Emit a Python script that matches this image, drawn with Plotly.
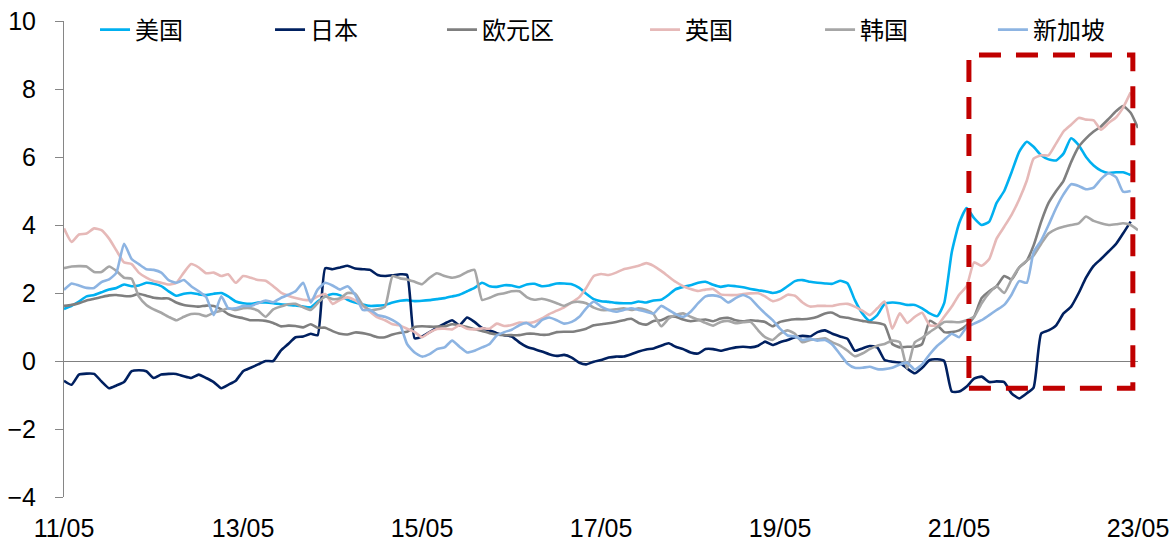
import pandas as pd
import plotly.graph_objects as go

# Monthly readings, starting May 2011
start_month = "2011-05-01"

us = [1.53, 1.62, 1.75, 1.9, 1.94, 2.02, 2.1, 2.15, 2.25, 2.2,
      2.22, 2.3, 2.27, 2.2, 2.05, 1.92, 1.98, 2.0, 1.96, 1.94,
      1.98, 2.0, 1.9, 1.75, 1.7, 1.68, 1.72, 1.72, 1.7, 1.67,
      1.65, 1.63, 1.6, 1.58, 1.75, 1.9, 1.97, 1.93, 1.8, 1.72,
      1.66, 1.62, 1.63, 1.65, 1.72, 1.77, 1.79, 1.76, 1.77, 1.79,
      1.82, 1.85, 1.9, 1.95, 2.05, 2.15, 2.3, 2.2, 2.18, 2.23,
      2.22, 2.17, 2.25, 2.27, 2.2, 2.22, 2.28, 2.28, 2.26, 2.15,
      1.98, 1.82, 1.76, 1.74, 1.71, 1.7, 1.7, 1.75, 1.72, 1.78,
      1.8, 1.95, 2.11, 2.18, 2.23, 2.3, 2.33, 2.24, 2.18, 2.22,
      2.2, 2.17, 2.12, 2.08, 2.05, 2.0, 2.05, 2.2, 2.35, 2.38,
      2.33, 2.3, 2.28, 2.27, 2.36, 2.28, 1.8, 1.4, 1.18, 1.35,
      1.68, 1.72, 1.7, 1.65, 1.65, 1.55, 1.4, 1.32, 1.7, 3.2,
      4.05, 4.5, 4.2, 4.0, 4.1, 4.65, 5.0, 5.55, 6.15, 6.45,
      6.3, 6.05, 5.93, 5.9, 6.1, 6.55, 6.35, 6.0, 5.75, 5.6,
      5.53, 5.55, 5.55, 5.47]

japan = [-0.58, -0.7, -0.4, -0.37, -0.38, -0.6, -0.8, -0.72, -0.62, -0.3,
         -0.27, -0.3, -0.5, -0.4, -0.38, -0.38, -0.45, -0.5, -0.4, -0.5,
         -0.62, -0.8, -0.7, -0.58, -0.3, -0.2, -0.1, 0.0, 0.0, 0.3,
         0.5, 0.7, 0.72, 0.8, 0.76, 2.73, 2.7, 2.75, 2.8, 2.72,
         2.7, 2.68, 2.53, 2.5, 2.52, 2.55, 2.53, 0.67, 0.72, 0.85,
         0.98, 1.1, 1.2, 1.05, 1.28, 1.15, 0.97, 0.9, 0.82, 0.76,
         0.72, 0.55, 0.42, 0.35, 0.28, 0.2, 0.15, 0.18, 0.1, -0.05,
         -0.1, -0.02, 0.03, 0.1, 0.13, 0.13, 0.2, 0.28, 0.34, 0.37,
         0.45, 0.52, 0.42, 0.35, 0.25, 0.22, 0.35, 0.35, 0.3, 0.35,
         0.4, 0.42, 0.4, 0.45, 0.57, 0.47, 0.55, 0.62, 0.7, 0.74,
         0.72, 0.85, 0.9, 0.8, 0.72, 0.65, 0.3, 0.37, 0.44, 0.4,
         0.03, -0.02, -0.05, -0.22, -0.36, -0.2, 0.03, 0.05, 0.0, -0.9,
         -0.9, -0.75, -0.52, -0.46, -0.62, -0.6, -0.62, -0.95, -1.1, -0.95,
         -0.78, 0.81, 0.9, 1.05, 1.4, 1.6, 2.0, 2.45, 2.8, 3.0,
         3.22, 3.45, 3.75, 4.1]

euro = [1.62, 1.65, 1.7, 1.78, 1.83, 1.88, 1.93, 1.94, 1.91, 1.91,
        1.98, 1.92, 1.86, 1.84, 1.84, 1.72, 1.65, 1.62, 1.6, 1.63,
        1.62, 1.52, 1.38, 1.3, 1.26, 1.2, 1.2, 1.18, 1.12, 1.02,
        1.04, 1.03, 0.99, 1.08, 0.98, 0.98, 0.88, 0.8, 0.78, 0.84,
        0.82, 0.77, 0.7, 0.7, 0.78, 0.83, 0.86, 1.0, 1.02, 1.01,
        1.01, 1.02, 1.08, 1.05, 1.0, 0.94, 0.88, 0.82, 0.78, 0.76,
        0.76, 0.76, 0.8, 0.8, 0.77, 0.78, 0.85, 0.86, 0.86, 0.9,
        0.95, 1.05, 1.08, 1.11, 1.15, 1.2, 1.24, 1.12, 1.07, 1.18,
        1.2, 1.3, 1.3, 1.22, 1.17, 1.2, 1.22, 1.17, 1.25, 1.27,
        1.2, 1.17, 1.2, 1.18, 1.15, 1.02, 1.15, 1.2, 1.23, 1.23,
        1.25, 1.3, 1.4, 1.42, 1.3, 1.27, 1.22, 1.18, 1.14, 1.12,
        1.06, 0.5, 0.4, 0.42, 0.42, 0.5, 1.18, 1.05, 0.85, 0.85,
        0.9, 1.05, 1.3, 1.85, 2.05, 2.2, 2.5, 2.4, 2.75, 2.95,
        3.4, 4.1, 4.65, 5.0, 5.3, 5.85, 6.3, 6.55, 6.75, 6.9,
        7.12, 7.35, 7.5, 7.3, 6.85]

uk = [3.9, 3.5, 3.72, 3.75, 3.9, 3.85, 3.6, 3.25, 2.9, 2.85,
      2.6, 2.45, 2.35, 2.3, 2.25, 2.3, 2.6, 2.85, 2.75, 2.58,
      2.6, 2.5, 2.55, 2.3, 2.5, 2.45, 2.38, 2.36, 2.2, 2.02,
      1.92, 1.85, 1.8, 1.79, 1.9, 1.97, 1.68, 1.8, 1.87, 1.78,
      1.62, 1.45, 1.28, 1.2, 1.08, 1.04, 0.95, 0.85, 0.7, 0.84,
      0.94, 0.95, 0.93, 1.05, 0.95, 0.93, 0.96, 0.95, 1.1, 1.03,
      1.06, 1.13, 1.12, 1.15, 1.25, 1.38, 1.48, 1.58, 1.72, 1.88,
      2.15, 2.5, 2.56, 2.53, 2.6, 2.7, 2.75, 2.8, 2.88, 2.8,
      2.65, 2.48, 2.33, 2.2, 2.12, 2.06, 2.1, 2.12, 1.96, 1.94,
      1.94, 1.97, 1.99, 1.99, 1.9, 1.76, 1.82, 1.95, 1.92, 1.72,
      1.6, 1.62, 1.62, 1.62, 1.67, 1.68, 1.6, 1.48, 1.35, 1.55,
      1.75, 0.95, 1.4, 1.12, 1.3, 1.42, 1.05, 1.05, 1.3, 1.6,
      1.95, 2.2, 2.9, 2.8, 3.0, 3.6, 3.95, 4.3, 4.75, 5.3,
      5.95, 6.05, 6.05, 6.4, 6.75, 6.95, 7.15, 7.1, 7.08, 6.8,
      7.0, 7.17, 7.45, 7.9]

korea = [2.73, 2.78, 2.79, 2.78, 2.62, 2.62, 2.78, 2.65, 2.45, 2.42,
         1.9, 1.65, 1.52, 1.42, 1.3, 1.2, 1.3, 1.38, 1.38, 1.32,
         1.42, 1.48, 1.55, 1.5, 1.55, 1.55, 1.48, 1.3, 1.52, 1.6,
         1.67, 1.68, 1.58, 1.5, 1.7, 1.9, 1.82, 1.85, 2.0, 1.98,
         1.65, 1.5, 1.52, 1.6, 2.5, 2.43, 2.4, 2.33, 2.26, 2.45,
         2.58, 2.5, 2.45, 2.5, 2.62, 2.68, 1.8, 1.86, 1.95, 1.99,
         2.05, 2.05, 1.88, 1.8, 1.83, 1.78, 1.7, 1.62, 1.72, 1.74,
         1.7, 1.57, 1.5, 1.5, 1.52, 1.55, 1.5, 1.55, 1.5, 1.38,
         1.02, 1.25, 1.35, 1.4, 1.3, 1.22, 1.12, 1.04, 1.15, 1.18,
         1.11, 1.14, 1.15, 0.9, 0.7, 0.62, 0.8, 0.9, 0.8, 0.55,
         0.62, 0.64, 0.67, 0.55, 0.45, 0.3, 0.14, 0.22, 0.35, 0.45,
         0.5, 0.6, 0.55, -0.22, 0.55, 0.68, 0.85, 1.0, 1.15, 1.15,
         1.14, 1.2, 1.3, 1.7, 2.0, 2.2, 2.0, 2.4, 2.75, 2.95,
         3.1, 3.45, 3.75, 3.88, 3.95, 4.0, 4.05, 4.25, 4.12, 4.05,
         4.0, 4.02, 4.05, 4.0, 3.85]

singapore = [2.09, 2.28, 2.22, 2.15, 2.15, 2.32, 2.4, 2.6, 3.45, 3.0,
             2.85, 2.7, 2.68, 2.6, 2.38, 2.3, 2.38, 2.2, 2.05, 1.88,
             1.35, 1.9, 1.55, 1.55, 1.62, 1.62, 1.7, 1.78, 1.73, 1.85,
             1.95, 2.05, 2.3, 1.72, 2.1, 2.3, 2.22, 2.1, 2.2, 1.95,
             1.5, 1.5, 1.35, 1.3, 1.2, 1.05, 0.5, 0.25, 0.13, 0.2,
             0.35, 0.4, 0.6, 0.42, 0.25, 0.3, 0.4, 0.5, 0.75, 0.85,
             0.92, 1.05, 1.12, 1.0, 1.2, 1.28, 1.2, 1.1, 1.15, 1.3,
             1.55, 1.75, 1.6, 1.5, 1.45, 1.5, 1.55, 1.5, 1.45, 1.4,
             1.62, 1.5, 1.38, 1.3, 1.45, 1.7, 1.9, 1.93, 1.88, 1.72,
             1.85, 1.94, 1.84, 1.6, 1.4, 1.2, 0.95, 0.75, 0.72, 0.62,
             0.65, 0.6, 0.62, 0.48, 0.2, -0.08, -0.2, -0.2, -0.17, -0.24,
             -0.24, -0.2, -0.1, -0.05, -0.25, -0.1, 0.2, 0.45, 0.62, 0.8,
             0.7, 1.0, 1.1, 1.2, 1.35, 1.5, 1.65, 1.95, 2.35, 2.3,
             3.2, 3.55, 4.0, 4.5, 4.9, 5.2, 5.15, 5.05, 5.1, 5.35,
             5.52, 5.4, 4.98, 5.0]

series_names = ["美国", "日本", "欧元区", "英国", "韩国", "新加坡"]
series_values = [us, japan, euro, uk, korea, singapore]
series_colors = ["#00B0F0", "#002060", "#7F7F7F", "#E6B9B8", "#A6A6A6", "#8DB4E2"]

tick_dates = ["2011-05-01", "2013-05-01", "2015-05-01", "2017-05-01",
              "2019-05-01", "2021-05-01", "2023-05-01"]
tick_labels = ["11/05", "13/05", "15/05", "17/05", "19/05", "21/05", "23/05"]
y_ticks = [-4, -2, 0, 2, 4, 6, 8, 10]

# highlighted window: mid 2021 to spring 2023
box_x = ["2021-06-10", "2023-04-10"]
box_y = [-0.8, 9.0]

# one legend box per series so the key entries sit in a single spaced row
legend_ids = ["legend", "legend2", "legend3", "legend4", "legend5", "legend6"]
legend_x = [0.0810, 0.2302, 0.3768, 0.5499, 0.6991, 0.8465]

fig = go.Figure()
for name, vals, color, lid in zip(series_names, series_values, series_colors, legend_ids):
    dates = pd.date_range(start_month, periods=len(vals), freq="MS")
    fig.add_trace(go.Scatter(
        x=dates, y=vals, name=name, mode="lines", legend=lid,
        line=dict(color=color, width=2.6, shape="spline", smoothing=0.5),
    ))

fig.add_shape(
    type="rect", xref="x", yref="y",
    x0=box_x[0], x1=box_x[1], y0=box_y[0], y1=box_y[1],
    line=dict(color="#C00000", width=5, dash="22px,15px"),
    fillcolor="rgba(0,0,0,0)", layer="above",
)

legend_style = dict(
    orientation="h", xref="container", yref="container",
    xanchor="left", y=0.9445, yanchor="middle",
    font=dict(family="Noto Sans CJK SC", size=24, color="#000000"),
    bgcolor="rgba(0,0,0,0)", borderwidth=0,
)
layout_legends = {lid: dict(legend_style, x=lx) for lid, lx in zip(legend_ids, legend_x)}

fig.update_layout(
    width=1173, height=541,
    margin=dict(l=64, r=35, t=21, b=44, autoexpand=False),
    paper_bgcolor="white", plot_bgcolor="white",
    font=dict(family="Liberation Sans, Arial, sans-serif", size=25, color="#000000"),
    showlegend=True,
    **layout_legends,
)

fig.update_xaxes(
    type="date", range=["2011-05-01", "2023-05-01"],
    tickmode="array", tickvals=tick_dates, ticktext=tick_labels,
    showline=False, showgrid=False, zeroline=False, ticks="",
    ticklabelstandoff=14, automargin=False,
    tickfont=dict(family="Liberation Sans, Arial, sans-serif", size=25, color="#000000"),
)

fig.update_yaxes(
    range=[-4, 10], tickmode="array", tickvals=y_ticks,
    showline=True, linecolor="#868686", linewidth=1,
    ticks="outside", ticklen=8, tickcolor="#868686", tickwidth=1,
    showgrid=False, zeroline=True, zerolinecolor="#808080", zerolinewidth=1.2,
    ticklabelstandoff=14, automargin=False,
    tickfont=dict(family="Liberation Sans, Arial, sans-serif", size=25, color="#000000"),
)

fig.write_html("out.html")
